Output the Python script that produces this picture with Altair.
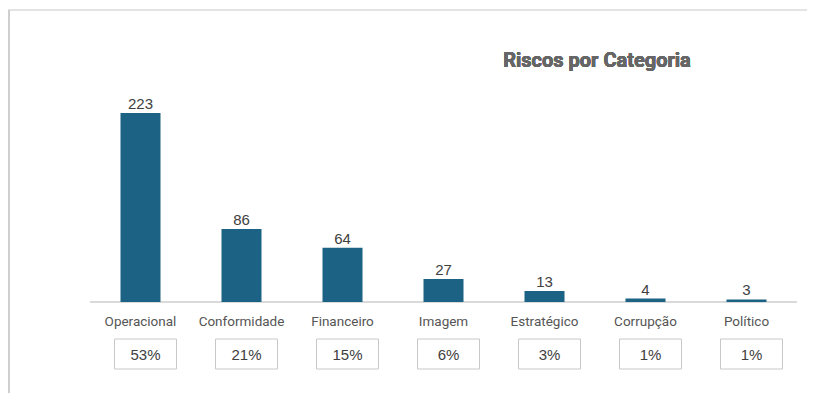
import altair as alt
import pandas as pd

categorias = ["Operacional", "Conformidade", "Financeiro", "Imagem", "Estratégico", "Corrupção", "Político"]
quantidades = [223, 86, 64, 27, 13, 4, 3]
percentuais = ["53%", "21%", "15%", "6%", "3%", "1%", "1%"]
titulo = "Riscos por Categoria"

df = pd.DataFrame({"cat": categorias, "n": quantidades, "pct": percentuais})

W, H = 707, 262
x = alt.X("cat:N", sort=categorias, axis=None,
          scale=alt.Scale(paddingInner=0, paddingOuter=0))
y = alt.Y("n:Q", axis=None, scale=alt.Scale(domain=[0, 309], nice=False, zero=True))

base = alt.Chart(df)

bars = base.mark_bar(size=40, color="#1C6284").encode(x=x, y=y)
vals = base.mark_text(dy=-9, fontSize=15, font="Liberation Sans", color="#404040",
                      baseline="middle").encode(x=x, y=y, text="n:Q")
baseline = base.mark_rule(color="#d9d9d9", strokeWidth=1).encode(
    x=alt.value(0), x2=alt.value(W), y=alt.value(H))
cats = base.mark_text(fontSize=13.5, font="Roboto", color="#555555", baseline="middle").encode(
    x=x, y=alt.value(282), text="cat:N")
boxes = base.mark_bar(width=62, xOffset=5, fill="white", stroke="#c8c8c8", strokeWidth=1).encode(
    x=x, y=alt.value(299), y2=alt.value(329))
pcts = base.mark_text(xOffset=5, fontSize=15, font="Liberation Sans", color="#404040",
                      baseline="middle").encode(x=x, y=alt.value(315), text="pct:N")
title = base.mark_text(fontSize=20, font="Roboto", fontWeight="bold", color="#666666",
                       baseline="middle").encode(
    x=alt.value(507), y=alt.value(21), text=alt.value(titulo))
top_line = base.mark_rule(color="#e3e3e3", strokeWidth=1).encode(
    x=alt.value(-82), x2=alt.value(W + 10), y=alt.value(-30))
left_line = base.mark_rule(color="#cfcfcf", strokeWidth=2).encode(
    x=alt.value(-81), y=alt.value(-30), y2=alt.value(353))

chart = alt.layer(top_line, left_line, baseline, bars, vals, cats, boxes, pcts, title).properties(
    width=W, height=H,
    autosize=alt.AutoSizeParams(type="none"),
    padding={"left": 82, "top": 32, "right": 10, "bottom": 91},
).configure_view(stroke=None)

chart.save("out.html", embed_options={"renderer": "svg", "actions": False})
